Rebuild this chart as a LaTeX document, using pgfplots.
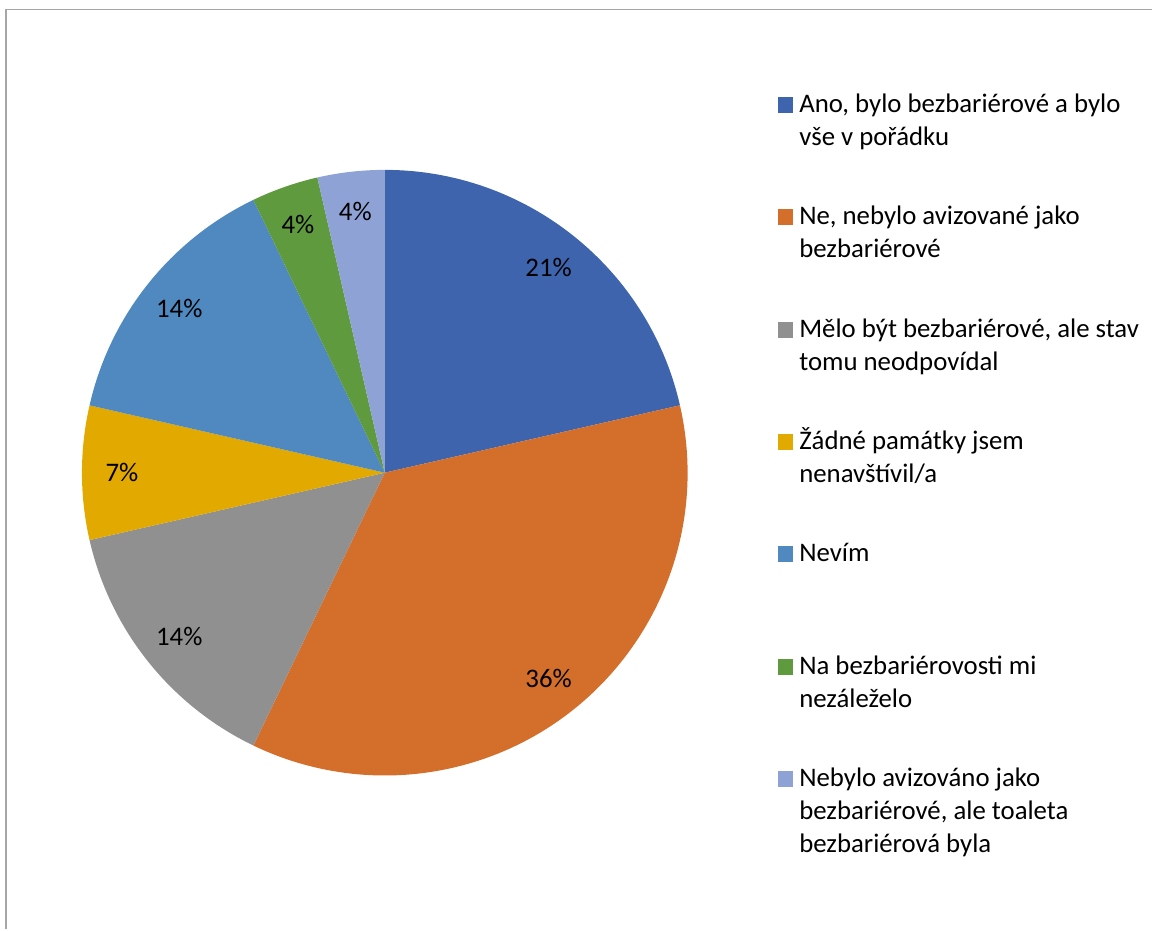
\documentclass[border=0pt]{standalone}
\usepackage{pgfplots}
\usepackage{pgfplotstable}
\pgfplotsset{compat=1.18}
\usepackage{fontspec}
\setmainfont{Carlito}
\definecolor{c1}{HTML}{3E64AE}
\definecolor{c2}{HTML}{D46E2B}
\definecolor{c3}{HTML}{909090}
\definecolor{c4}{HTML}{E2A900}
\definecolor{c5}{HTML}{4F89BF}
\definecolor{c6}{HTML}{5F9B3E}
\definecolor{c7}{HTML}{8FA2D5}
\definecolor{framegray}{HTML}{A6A6A6}
\newcommand{\lbfont}{\fontsize{13.4}{16.5}\selectfont}
\newcommand{\lgent}[1]{\begin{minipage}[t]{172pt}\lbfont\strut #1\end{minipage}}
\pgfplotstableread{
count color
6 c1
10 c2
4 c3
2 c4
4 c5
1 c6
1 c7
}\piedata
\begin{document}
\begin{tikzpicture}
\begin{axis}[
  x=0.5pt, y=0.5pt,
  xmin=0, xmax=1153, ymin=0, ymax=930,
  scale only axis, hide axis, clip=false,
  sq/.style={legend image code/.code={\fill[#1] (0pt,0pt) rectangle (7.5pt,7.5pt);}},
  legend style={draw=none, fill=none, inner sep=0pt, outer sep=0pt,
    row sep=39.15pt, column sep=1pt,
    cells={anchor=base west, inner sep=0pt},
    at={(axis cs:778,844.6)}, anchor=north west},
]
\path (axis cs:0,0) rectangle (axis cs:1153,930);
\draw[framegray, line width=0.75pt] (axis cs:6.25,0) -- (axis cs:6.25,920.25) -- (axis cs:1153,920.25);
\pgfplotstablegetrowsof{\piedata}
\pgfmathtruncatemacro{\nrows}{\pgfplotsretval-1}
\def\total{0}
\pgfplotsforeachungrouped \i in {0,...,\nrows}{%
  \pgfplotstablegetelem{\i}{count}\of\piedata
  \pgfmathsetmacro{\total}{\total+\pgfplotsretval}%
}
\def\cum{0}
\pgfplotsforeachungrouped \i in {0,...,\nrows}{%
  \pgfplotstablegetelem{\i}{count}\of\piedata \let\v\pgfplotsretval
  \pgfplotstablegetelem{\i}{color}\of\piedata \let\c\pgfplotsretval
  \pgfmathsetmacro{\a}{90-360*\cum/\total}%
  \pgfmathsetmacro{\b}{90-360*(\cum+\v)/\total}%
  \pgfmathsetmacro{\m}{(\a+\b)/2}%
  \pgfmathtruncatemacro{\p}{round(100*\v/\total)}%
  \edef\temp{\noexpand\fill[\c] (axis cs:385,457) -- ++(\a:151.5pt) arc[start angle=\a, end angle=\b, radius=151.5pt] -- cycle;
    \noexpand\path (axis cs:385,457) ++(\m:131.5pt) node[font=\noexpand\lbfont, text=black] {\p\noexpand\%};}%
  \temp
  \pgfmathsetmacro{\cum}{\cum+\v}%
}
\addlegendimage{sq=c1}
\addlegendentry{\lgent{Ano, bylo bezbariérové a bylo\par vše v pořádku}}
\addlegendimage{sq=c2}
\addlegendentry{\lgent{Ne, nebylo avizované jako\par bezbariérové}}
\addlegendimage{sq=c3}
\addlegendentry{\lgent{Mělo být bezbariérové, ale stav\par tomu neodpovídal}}
\addlegendimage{sq=c4}
\addlegendentry{\lgent{Žádné památky jsem\par nenavštívil/a}}
\addlegendimage{sq=c5}
\addlegendentry{\lgent{Nevím}}
\addlegendimage{sq=c6}
\addlegendentry{\lgent{Na bezbariérovosti mi\par nezáleželo}}
\addlegendimage{sq=c7}
\addlegendentry{\lgent{Nebylo avizováno jako\par bezbariérové, ale toaleta\par bezbariérová byla}}
\end{axis}
\end{tikzpicture}
\end{document}
